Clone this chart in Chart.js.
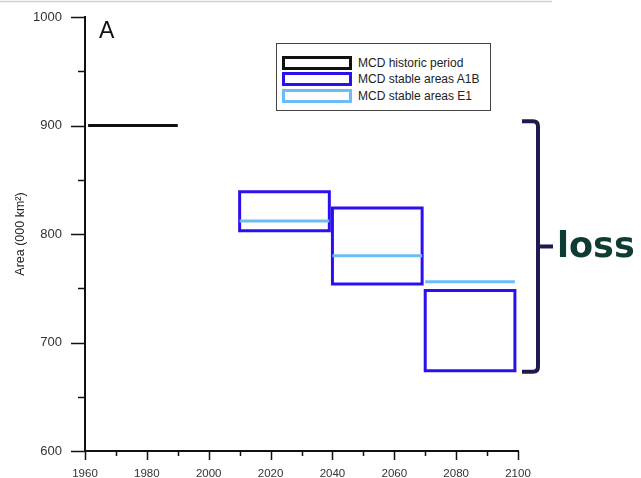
<!DOCTYPE html>
<html>
<head>
<meta charset="utf-8">
<script src="https://cdn.jsdelivr.net/npm/chart.js@4.4.0/dist/chart.umd.min.js"></script>
<style>
  html, body { margin: 0; padding: 0; background: #fff; }
  #wrap { position: relative; width: 641px; height: 478px; font-family: "Liberation Sans", Arial, sans-serif; }
  canvas { position: absolute; left: 0; top: 0; }
  .panel { position: absolute; left: 99px; top: 17px; font-size: 23px; color: #111; }
  .legend { position: absolute; left: 276px; top: 43px; width: 213px; height: 66px; border: 1.5px solid #444; background: #fff; }
  .row { position: absolute; left: 5px; height: 14px; }
  .sw { position: absolute; left: 0; top: 0; width: 64px; height: 8px; border-width: 3px; border-style: solid; background: #fff; }
  .lab { position: absolute; left: 76px; top: -1px; font-size: 12px; color: #222; white-space: nowrap; line-height: 16px; }
  .loss { position: absolute; left: 557px; top: 225px; font-family: "DejaVu Sans", Verdana, sans-serif; font-weight: bold; font-size: 35px; color: #0f3b35; line-height: 40px; }
</style>
</head>
<body>
<div id="wrap">
  <canvas id="chart" width="641" height="478"></canvas>
  <div class="panel">A</div>
  <div class="legend">
    <div class="row" style="top:12px"><div class="sw" style="border-color:#111"></div><div class="lab">MCD historic period</div></div>
    <div class="row" style="top:28px"><div class="sw" style="border-color:#2a10f0"></div><div class="lab">MCD stable areas A1B</div></div>
    <div class="row" style="top:45px"><div class="sw" style="border-color:#6cbcf5"></div><div class="lab">MCD stable areas E1</div></div>
  </div>
  <div class="loss">loss</div>
</div>
<script>
// MCD area, historic period vs. projected stable areas
const historicYears = [1961, 1990]
const historicArea = 900

const periodStart = [2010, 2040, 2070]
const periodEnd = [2039, 2069, 2099]
const a1bLow = [803, 754, 674]
const a1bHigh = [839, 824, 748]
const e1Area = [812, 780, 756]

const yTicks = [600, 700, 800, 900, 1000]
const yMinorTicks = [650, 750, 850, 950]
const xTicks = [1960, 1980, 2000, 2020, 2040, 2060, 2080, 2100]
const xMinorTicks = [1970, 1990, 2010, 2030, 2050, 2070, 2090]

const BLUE = '#2a10f0'
const LIGHT = '#6cbcf5'

const datasets = []

datasets.push({
  data: historicYears.map(x => ({ x: x, y: historicArea })),
  borderColor: '#111',
  borderWidth: 3
})

periodStart.forEach((s, i) => {
  datasets.push({
    data: [
      { x: s, y: e1Area[i] },
      { x: periodEnd[i], y: e1Area[i] }
    ],
    borderColor: LIGHT,
    borderWidth: 3
  })
  datasets.push({
    data: [
      { x: s, y: a1bLow[i] },
      { x: periodEnd[i], y: a1bLow[i] },
      { x: periodEnd[i], y: a1bHigh[i] },
      { x: s, y: a1bHigh[i] },
      { x: s, y: a1bLow[i] }
    ],
    borderColor: BLUE,
    borderWidth: 3,
    borderJoinStyle: 'miter',
    borderCapStyle: 'square'
  })
})

// tick marks, top rule and the "loss" brace
const extras = {
  id: 'extras',
  afterDraw(chart) {
    const ctx = chart.ctx
    const xs = chart.scales.x
    const ys = chart.scales.y
    const area = chart.chartArea
    ctx.save()

    ctx.strokeStyle = '#d0d0d0'
    ctx.lineWidth = 1.5
    ctx.beginPath()
    ctx.moveTo(0, 1.5)
    ctx.lineTo(552, 1.5)
    ctx.stroke()

    ctx.strokeStyle = '#111'
    ctx.lineWidth = 1.5
    ctx.beginPath()
    yTicks.forEach(v => {
      const p = Math.round(ys.getPixelForValue(v)) + 0.5
      ctx.moveTo(area.left - 14, p); ctx.lineTo(area.left, p)
    })
    yMinorTicks.forEach(v => {
      const p = Math.round(ys.getPixelForValue(v)) + 0.5
      ctx.moveTo(area.left - 7, p); ctx.lineTo(area.left, p)
    })
    xTicks.forEach(v => {
      const p = Math.round(xs.getPixelForValue(v)) + 0.5
      ctx.moveTo(p, area.bottom); ctx.lineTo(p, area.bottom + 9)
    })
    xMinorTicks.forEach(v => {
      const p = Math.round(xs.getPixelForValue(v)) + 0.5
      ctx.moveTo(p, area.bottom); ctx.lineTo(p, area.bottom + 5)
    })
    ctx.stroke()

    // brace from the historic level down to the lowest projection
    const top = ys.getPixelForValue(904)
    const bot = ys.getPixelForValue(673)
    const mid = (top + bot) / 2
    const bx = 538
    ctx.strokeStyle = '#1d1b4e'
    ctx.lineWidth = 4
    ctx.lineCap = 'butt'
    ctx.beginPath()
    ctx.moveTo(522, top)
    ctx.lineTo(bx - 5, top)
    ctx.quadraticCurveTo(bx, top, bx, top + 5)
    ctx.lineTo(bx, bot - 5)
    ctx.quadraticCurveTo(bx, bot, bx - 5, bot)
    ctx.lineTo(522, bot)
    ctx.stroke()
    ctx.beginPath()
    ctx.moveTo(bx, mid)
    ctx.lineTo(553, mid)
    ctx.stroke()

    ctx.restore()
  }
}

new Chart(document.getElementById('chart'), {
  type: 'line',
  data: { datasets: datasets },
  options: {
    responsive: false,
    animation: false,
    layout: { padding: { top: 17, right: 123, left: 0, bottom: 0 } },
    elements: { point: { radius: 0 }, line: { tension: 0 } },
    plugins: { legend: { display: false }, tooltip: { enabled: false } },
    scales: {
      x: {
        type: 'linear',
        min: 1960,
        max: 2100,
        afterFit: s => { s.height = 27; s.paddingLeft = 0; s.paddingRight = 0 },
        grid: { display: false, drawTicks: false },
        border: { display: true, color: '#111', width: 2 },
        ticks: {
          stepSize: 20, padding: 16, color: '#333', maxRotation: 0,
          font: { family: 'Liberation Sans', size: 11.5 },
          callback: v => String(v)
        }
      },
      y: {
        min: 600,
        max: 1000,
        afterFit: s => { s.width = 85; s.paddingTop = 0; s.paddingBottom = 0 },
        grid: { display: false, drawTicks: false },
        border: { display: true, color: '#111', width: 2 },
        ticks: {
          stepSize: 100, padding: 23, color: '#333',
          font: { family: 'Liberation Sans', size: 13 },
          callback: v => String(v)
        },
        title: { display: true, text: 'Area (000 km²)', color: '#222', font: { family: 'Liberation Sans', size: 12.5 }, padding: { top: 13, bottom: 0 } }
      }
    }
  },
  plugins: [extras]
})
</script>
</body>
</html>
